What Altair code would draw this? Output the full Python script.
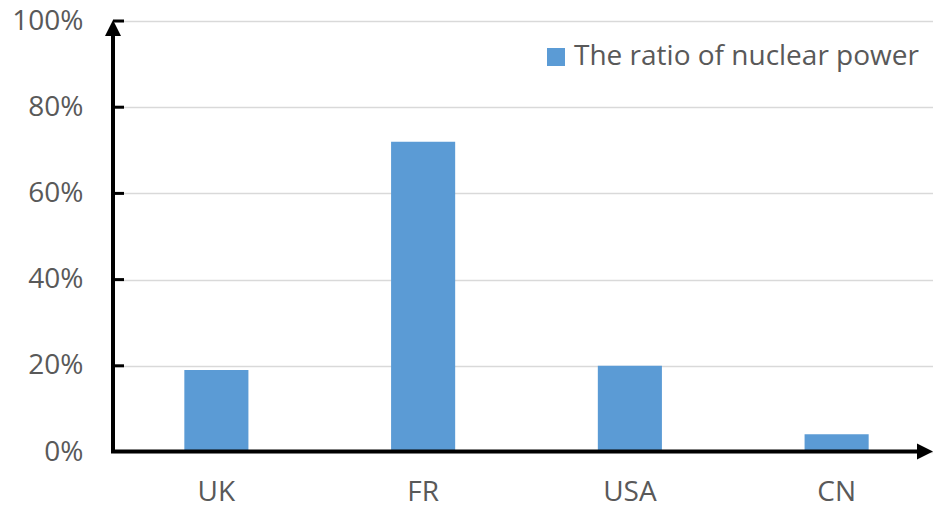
import altair as alt
import pandas as pd

# Share of electricity produced by nuclear power, by country
countries = ["UK", "FR", "USA", "CN"]
nuclear_share = [0.19, 0.72, 0.20, 0.041]
series_name = "The ratio of nuclear power"
tick_values = [0.0, 0.2, 0.4, 0.6, 0.8, 1.0]

FONT = "Open Sans"
TEXT_GREY = "#595959"
BAR_BLUE = "#5b9bd5"
FS = 28

bars_df = pd.DataFrame({"country": countries, "share": nuclear_share, "series": series_name})
ticks_df = pd.DataFrame({"v": tick_values[1:]})

W, H = 820, 431

x_scale = alt.Scale(domain=countries, range=[0, 827], paddingInner=0.69, paddingOuter=0.345)
y_scale = alt.Scale(domain=[0, 1])

bars = alt.Chart(bars_df).mark_bar(color=BAR_BLUE).encode(
    x=alt.X("country:N", scale=x_scale, sort=countries,
            axis=alt.Axis(title=None, domain=False, ticks=False, labelAngle=0,
                          labelPadding=26, labelFontSize=FS, labelFont=FONT,
                          labelColor=TEXT_GREY, grid=False)),
    y=alt.Y("share:Q", scale=y_scale,
            axis=alt.Axis(title=None, values=tick_values, format=".0%", domain=False,
                          ticks=False, labelPadding=30, labelFontSize=FS, labelFont=FONT,
                          labelColor=TEXT_GREY, grid=True, gridColor="#d9d9d9",
                          gridWidth=1.5)),
    color=alt.Color("series:N", scale=alt.Scale(range=[BAR_BLUE]),
                    legend=alt.Legend(title=None, orient="none", legendX=429, legendY=22,
                                      symbolType="square", symbolSize=324,
                                      symbolStrokeWidth=0, labelFontSize=FS,
                                      labelFont=FONT, labelColor=TEXT_GREY,
                                      labelLimit=0, labelOffset=4, padding=0)),
)

# Inward tick marks on the value axis
ticks = alt.Chart(ticks_df).mark_rule(color="black", strokeWidth=3).encode(
    y=alt.Y("v:Q", scale=y_scale),
    x=alt.value(0),
    x2=alt.value(11),
)

# Heavy axis lines with arrow heads
y_axis_line = alt.Chart(bars_df.head(1)).mark_rule(color="black", strokeWidth=4).encode(
    x=alt.value(0), y=alt.value(H), y2=alt.value(14)
)
x_axis_line = alt.Chart(bars_df.head(1)).mark_rule(color="black", strokeWidth=4).encode(
    x=alt.value(-2), x2=alt.value(806), y=alt.value(H - 0.5)
)
y_arrow = alt.Chart(bars_df.head(1)).mark_point(
    shape="M -1 1 L 0 -1 L 1 1 Z", filled=True, color="black", opacity=1, size=256
).encode(x=alt.value(0), y=alt.value(7))
x_arrow = alt.Chart(bars_df.head(1)).mark_point(
    shape="M -1 -1 L 1 0 L -1 1 Z", filled=True, color="black", opacity=1, size=256
).encode(x=alt.value(812), y=alt.value(H - 0.5))

chart = alt.layer(bars, ticks, y_axis_line, x_axis_line, y_arrow, x_arrow).properties(
    width=W, height=H,
    autosize=alt.AutoSizeParams(type="none"),
    padding={"left": 113, "top": 21, "right": 0, "bottom": 55},
).configure_view(stroke=None).configure(background="white")

chart.save("out.html", embed_options={"renderer": "svg", "actions": False})
